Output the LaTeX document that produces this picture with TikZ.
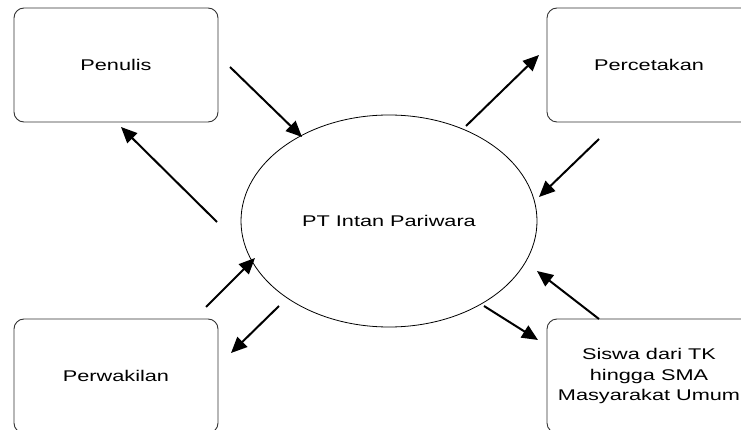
\documentclass[tikz,border=0pt]{standalone}
\usepackage{fontspec}
\setmainfont{Liberation Sans}[FakeStretch=1.4]
\usetikzlibrary{arrows.meta}
\tikzset{
  entity/.style={draw=black!80, line width=0.9pt, rounded corners=10pt, minimum width=204pt, minimum height=114pt, inner sep=0pt, align=center, font=\fontsize{15.5}{20.5}\selectfont},
  proc/.style={draw=black, line width=0.8pt, ellipse, minimum width=296pt, minimum height=212pt, inner sep=0pt, font=\fontsize{15.5}{20}\selectfont},
  flow/.style={line width=2pt, -{Triangle[length=16pt,width=14pt]}}
}
\usetikzlibrary{shapes.geometric}
\begin{document}
\begin{tikzpicture}[x=1pt,y=-1pt]
\clip (0,0) rectangle (741,430);
\fill[white] (0,0) rectangle (741,430);
\node[entity] (penulis) at (116,65) {Penulis};
\node[entity] (percetakan) at (649,65) {Percetakan};
\node[entity] (perwakilan) at (116,376) {Perwakilan};
\node[entity] (siswa) at (649,376) {Siswa dari TK\\hingga SMA\\Masyarakat Umum};
\node[proc] (pt) at (389,221) {PT Intan Pariwara};
% arrow end points
\coordinate (a1s) at (230,67);  \coordinate (a1e) at (302,137);
\coordinate (a2s) at (217,222); \coordinate (a2e) at (121,127);
\coordinate (a3s) at (466,126); \coordinate (a3e) at (539,55);
\coordinate (a4s) at (599,139); \coordinate (a4e) at (539,197);
\coordinate (a5s) at (206,307); \coordinate (a5e) at (255,258);
\coordinate (a6s) at (279,306); \coordinate (a6e) at (231,353);
\coordinate (a7s) at (484,306); \coordinate (a7e) at (538,340);
\coordinate (a8s) at (599,319); \coordinate (a8e) at (537,271);
\draw[flow] (a1s) -- (a1e);
\draw[flow] (a2s) -- (a2e);
\draw[flow] (a3s) -- (a3e);
\draw[flow] (a4s) -- (a4e);
\draw[flow] (a5s) -- (a5e);
\draw[flow] (a6s) -- (a6e);
\draw[flow] (a7s) -- (a7e);
\draw[flow] (a8s) -- (a8e);
\end{tikzpicture}
\end{document}
